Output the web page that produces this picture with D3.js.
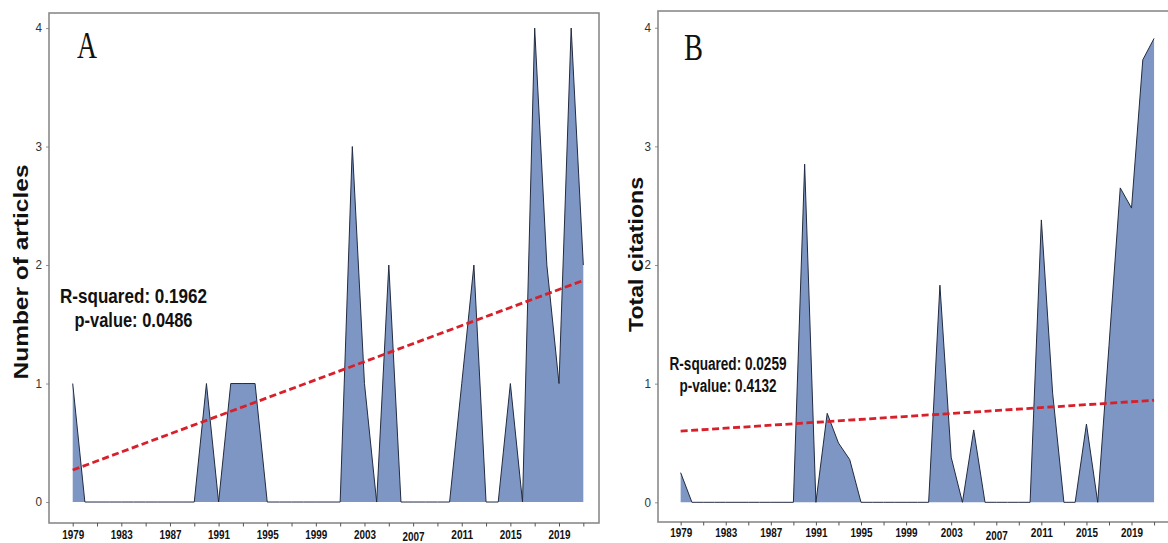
<!DOCTYPE html>
<html>
<head>
<meta charset="utf-8">
<script src="https://cdn.jsdelivr.net/npm/d3@7"></script>
<style>
  body { margin: 0; background: #fff; }
  svg { display: block; }
</style>
</head>
<body>
<svg id="chart" width="1168" height="543"></svg>
<script>
// Publication years covered by both panels
const years = [1979, 1980, 1981, 1982, 1983, 1984, 1985, 1986, 1987, 1988,
               1989, 1990, 1991, 1992, 1993, 1994, 1995, 1996, 1997, 1998,
               1999, 2000, 2001, 2002, 2003, 2004, 2005, 2006, 2007, 2008,
               2009, 2010, 2011, 2012, 2013, 2014, 2015, 2016, 2017, 2018,
               2019, 2020, 2021];

// Panel A: number of articles per year
const articles = [1, 0, 0, 0, 0, 0, 0, 0, 0, 0,
                  0, 1, 0, 1, 1, 1, 0, 0, 0, 0,
                  0, 0, 0, 3, 1, 0, 2, 0, 0, 0,
                  0, 0, 1, 2, 0, 0, 1, 0, 4, 2,
                  1, 4, 2];

// Panel B: total citations per year
const citations = [0.25, 0, 0, 0, 0, 0, 0, 0, 0, 0,
                   0, 2.85, 0, 0.75, 0.50, 0.36, 0, 0, 0, 0,
                   0, 0, 0, 1.83, 0.38, 0, 0.61, 0, 0, 0,
                   0, 0, 2.38, 0.92, 0, 0, 0.66, 0, 1.32, 2.65,
                   2.48, 3.73, 3.91];

// Axis ticks
const tickYears = [1979, 1981, 1983, 1985, 1987, 1989, 1991, 1993, 1995, 1997,
                   1999, 2001, 2003, 2005, 2007, 2009, 2011, 2013, 2015, 2017,
                   2019, 2021];
const labelYears = [1979, 1983, 1987, 1991, 1995, 1999, 2003, 2007, 2011, 2015, 2019];
const yTicks = [0, 1, 2, 3, 4];

// Linear trend (fitted value at first and last year)
const trendArticles = [0.27, 1.87];
const trendCitations = [0.60, 0.86];

// Regression annotations and titles
const statsArticles = ["R-squared: 0.1962", "p-value: 0.0486"];
const statsCitations = ["R-squared: 0.0259", "p-value: 0.4132"];
const panelLetters = ["A", "B"];
const yTitles = ["Number of articles", "Total citations"];

const svg = d3.select("#chart");
const SANS = "'Liberation Sans', Arial, Helvetica, sans-serif";
const SERIF = "'Liberation Serif', 'Times New Roman', serif";
const FILL = "#7d96c3";
const OUTLINE = "#222b40";
const TREND = "#d8202b";
const FRAME = "#8a8a8a";

function drawPanel(o) {
  const g = svg.append("g");
  const x = d3.scaleLinear().domain(o.xDomain).range([o.left, o.right]);
  const y = d3.scaleLinear().domain(o.yDomain).range([o.bottom, o.top]);
  const pts = years.map((yr, i) => ({ yr, v: o.values[i] }));

  // filled area down to zero
  g.append("path")
    .datum(pts)
    .attr("d", d3.area().x(d => x(d.yr)).y0(y(0)).y1(d => y(d.v)))
    .attr("fill", FILL);

  // outline of the series
  g.append("path")
    .datum(pts)
    .attr("d", d3.line().x(d => x(d.yr)).y(d => y(d.v)))
    .attr("fill", "none")
    .attr("stroke", OUTLINE)
    .attr("stroke-width", 1)
    .attr("stroke-linejoin", "miter");

  // dashed trend line
  g.append("line")
    .attr("x1", x(years[0])).attr("y1", y(o.trend[0]))
    .attr("x2", x(years[years.length - 1])).attr("y2", y(o.trend[1]))
    .attr("stroke", TREND)
    .attr("stroke-width", 2.8)
    .attr("stroke-dasharray", "7,3.5");

  // panel frame
  g.append("rect")
    .attr("x", o.left).attr("y", o.top)
    .attr("width", o.right - o.left).attr("height", o.bottom - o.top)
    .attr("fill", "none")
    .attr("stroke", FRAME)
    .attr("stroke-width", 1.6);

  // x axis: ticks every two years, labels every four
  const xa = g.append("g")
    .attr("transform", `translate(0,${o.bottom})`)
    .call(d3.axisBottom(x)
      .tickValues(tickYears)
      .tickSize(3.5)
      .tickPadding(o.xPad)
      .tickFormat(d => labelYears.includes(d) ? String(d) : ""));
  xa.select(".domain").remove();
  xa.selectAll(".tick line").attr("stroke", "#555").attr("stroke-width", 1);
  xa.selectAll(".tick text")
    .attr("fill", "#111")
    .attr("font-family", SANS)
    .attr("font-weight", "bold")
    .attr("font-size", 13)
    .attr("dy", d => d === 2007 ? "0.94em" : "0.76em")
    .each(function () {
      if (this.textContent) {
        d3.select(this).attr("textLength", 22).attr("lengthAdjust", "spacingAndGlyphs");
      }
    });

  // y axis
  const ya = g.append("g")
    .attr("transform", `translate(${o.left},0)`)
    .call(d3.axisLeft(y).tickValues(yTicks).tickSize(3).tickPadding(4).tickFormat(d3.format("d")));
  ya.select(".domain").remove();
  ya.selectAll(".tick line").attr("stroke", "#777").attr("stroke-width", 0.8);
  ya.selectAll(".tick text")
    .attr("fill", "#333")
    .attr("font-family", SANS)
    .attr("font-size", 12)
    .attr("textLength", 6.5)
    .attr("lengthAdjust", "spacingAndGlyphs");

  // y axis title
  g.append("text")
    .attr("transform", `translate(${o.titleX},${o.titleY}) rotate(-90)`)
    .attr("text-anchor", "middle")
    .attr("font-family", SANS)
    .attr("font-weight", "bold")
    .attr("font-size", 19.5)
    .attr("fill", "#111")
    .attr("textLength", o.titleLen)
    .attr("lengthAdjust", "spacingAndGlyphs")
    .text(o.title);

  // panel letter
  g.append("text")
    .attr("x", o.letterX).attr("y", o.letterY)
    .attr("font-family", SERIF)
    .attr("font-size", 38)
    .attr("fill", "#111")
    .attr("textLength", o.letterLen)
    .attr("lengthAdjust", "spacingAndGlyphs")
    .text(o.letter);

  // regression statistics
  o.stats.forEach((s, i) => {
    g.append("text")
      .attr("x", o.statsX).attr("y", o.statsY[i])
      .attr("text-anchor", "middle")
      .attr("font-family", SANS)
      .attr("font-weight", "bold")
      .attr("font-size", o.statsSize)
      .attr("fill", "#111")
      .attr("textLength", o.statsLen[i])
      .attr("lengthAdjust", "spacingAndGlyphs")
      .text(s);
  });
}

drawPanel({
  values: articles, trend: trendArticles,
  left: 49, right: 599, top: 13, bottom: 523,
  xDomain: [1977.05, 2022.29], yDomain: [-0.177, 4.127],
  xPad: 2.5,
  title: yTitles[0], titleX: 28, titleY: 272, titleLen: 215,
  letter: panelLetters[0], letterX: 77, letterY: 58, letterLen: 20,
  stats: statsArticles, statsX: 133.5, statsY: [303, 327], statsSize: 19.5, statsLen: [147, 118]
});

drawPanel({
  values: citations, trend: trendCitations,
  left: 658, right: 1180, top: 11, bottom: 522,
  xDomain: [1976.99, 2023.30], yDomain: [-0.166, 4.141],
  xPad: 2,
  title: yTitles[1], titleX: 643, titleY: 254.5, titleLen: 155,
  letter: panelLetters[1], letterX: 684, letterY: 60, letterLen: 19,
  stats: statsCitations, statsX: 728, statsY: [370, 392], statsSize: 17.5, statsLen: [117, 97]
});
</script>
</body>
</html>
